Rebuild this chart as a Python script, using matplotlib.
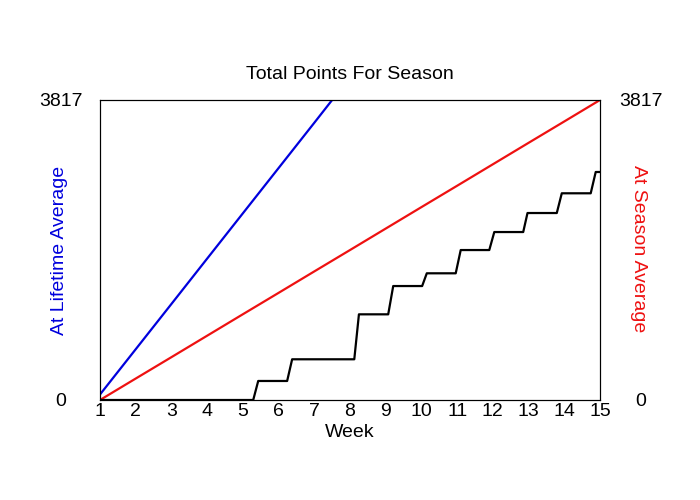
import matplotlib
matplotlib.use("Agg")
import matplotlib.pyplot as plt

plt.rcParams["font.family"] = ["Liberation Sans", "DejaVu Sans"]

# ---------------------------------------------------------------------------
# Data
# ---------------------------------------------------------------------------

Y_MAX = 3817
weeks = list(range(1, 16))

# cumulative pace at the season average (red)
season_avg = [0, 273, 545, 818, 1091, 1363, 1636, 1908, 2181, 2454,
              2726, 2999, 3272, 3544, 3817]

# cumulative pace at the lifetime average (blue), runs off the top
lifetime_weeks = [1, 2, 3, 4, 5, 6, 7, 7.5]
lifetime_avg = [70, 646, 1222, 1799, 2375, 2951, 3527, 3817]

# actual total points (black step line): corner points
actual_weeks = [1, 5.29, 5.43, 6.24, 6.38, 8.12, 8.25, 9.07, 9.21,
                10.02, 10.15, 10.96, 11.10, 11.90, 12.04, 12.85, 12.97,
                13.79, 13.93, 14.74, 14.88, 15]
actual_points = [0, 0, 242, 242, 518, 518, 1090, 1090, 1450,
                 1450, 1612, 1612, 1908, 1908, 2137, 2137, 2379,
                 2379, 2630, 2630, 2901, 2901]

# ---------------------------------------------------------------------------
# Plot
# ---------------------------------------------------------------------------

fig = plt.figure(figsize=(7, 5), dpi=100)
ax = fig.add_axes([100 / 700, 100 / 500, 500 / 700, 300 / 500])

ax.plot(lifetime_weeks, lifetime_avg, color="#0000dd", linewidth=1.6)
ax.plot(weeks, season_avg, color="#ee1111", linewidth=1.6)
ax.plot(actual_weeks, actual_points, color="black", linewidth=1.6)

ax.set_xlim(1, 15)
ax.set_ylim(0, Y_MAX)
ax.set_xticks(weeks)
ax.set_yticks([0, Y_MAX])
ax.tick_params(axis="x", length=0, pad=2, labelsize=14)
ax.tick_params(axis="y", length=0, pad=28, labelsize=14)
for lab in ax.get_yticklabels():
    lab.set_ha("center")
ax.set_xlabel("Week", fontsize=14, labelpad=3)
ax.set_title("Total Points For Season", fontsize=14, pad=15)

ylab = ax.set_ylabel("At Lifetime Average", color="#0000dd", fontsize=14)
ylab.set_rotation_mode("default")
ylab.set_va("center")
ax.yaxis.set_label_coords(-0.08, 0.5)

ax2 = ax.twinx()
ax2.set_ylim(0, Y_MAX)
ax2.set_yticks([0, Y_MAX])
ax2.tick_params(axis="y", length=0, pad=29.5, labelsize=14)
for lab in ax2.get_yticklabels():
    lab.set_ha("center")
ylab2 = ax2.set_ylabel("At Season Average", color="#ee1111", fontsize=14,
                       rotation=270)
ylab2.set_rotation_mode("default")
ylab2.set_va("center")
ax2.yaxis.set_label_coords(1.076, 0.505)

fig.savefig("out.png", dpi=100)
